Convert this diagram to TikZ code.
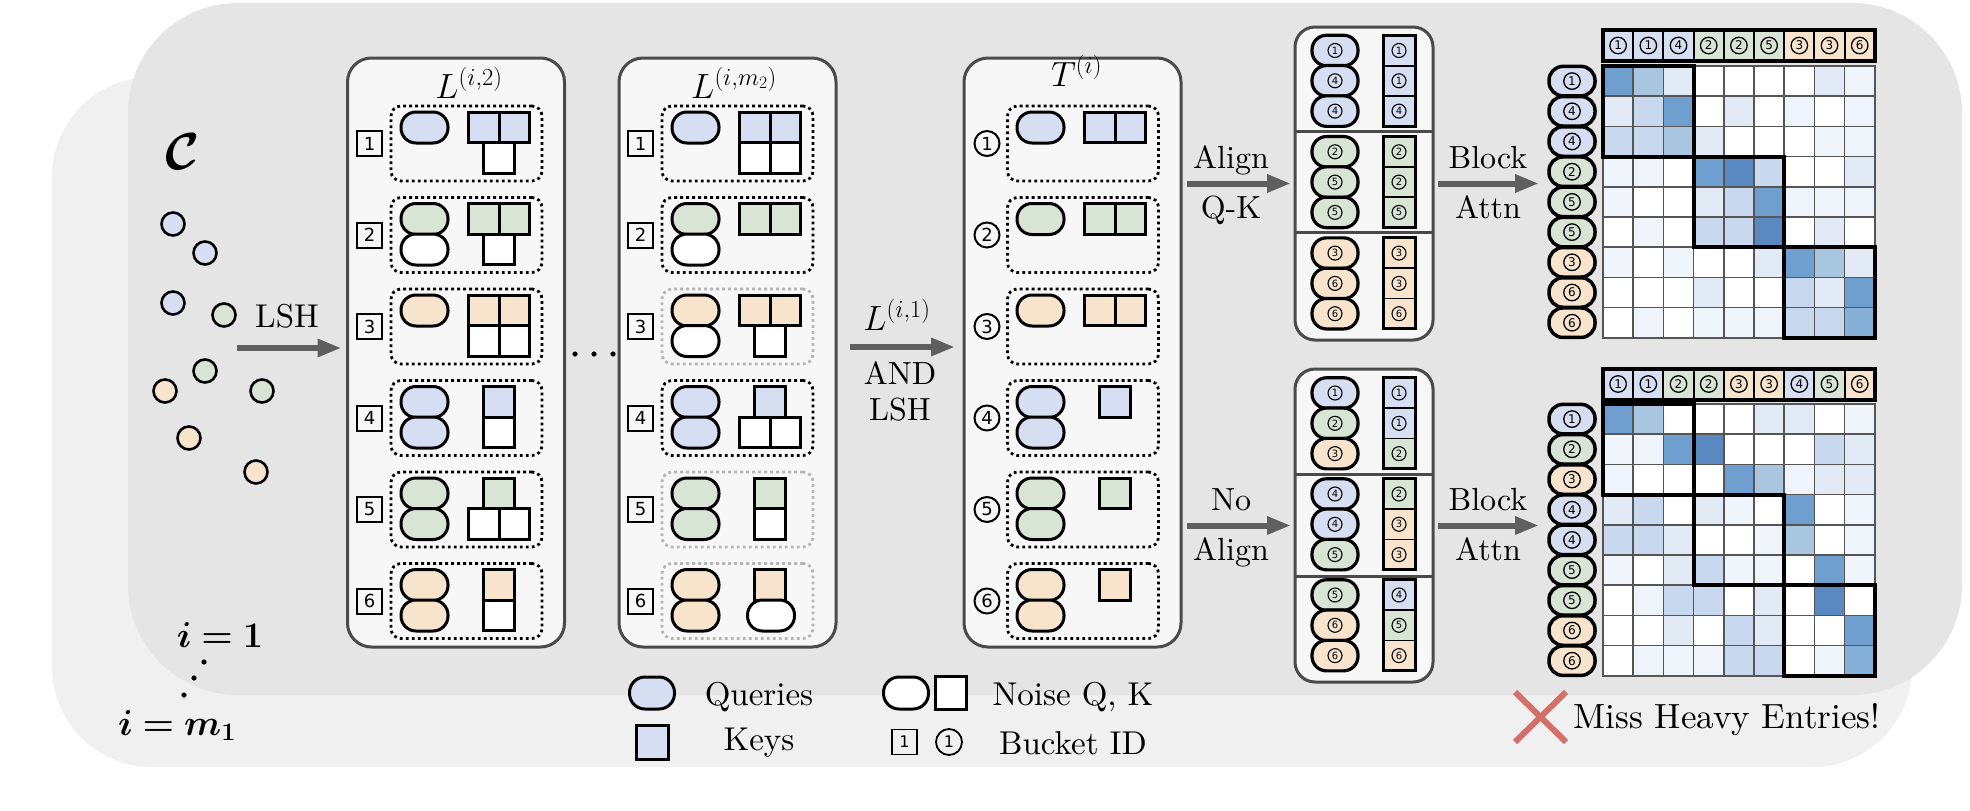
\RequirePackage{fix-cm}
\documentclass[tikz,border=0pt]{standalone}
\usepackage{amsmath}
\usepackage{bm}
\usepackage{fontspec}
\setmainfont{lmroman10-regular.otf}[BoldFont=lmroman10-bold.otf, ItalicFont=lmroman10-italic.otf]
\newfontfamily\digitfont{DejaVu Sans}
\usetikzlibrary{arrows.meta}
\definecolor{panelA}{HTML}{F0F0F0}
\definecolor{panelB}{HTML}{E5E5E5}
\definecolor{boxfill}{HTML}{F7F7F7}
\definecolor{boxline}{HTML}{4A4A4A}
\definecolor{qb}{HTML}{D6DEF2}
\definecolor{qg}{HTML}{D9E5D4}
\definecolor{qo}{HTML}{F8E4CC}
\definecolor{arrowgray}{HTML}{5F5F5F}
\definecolor{dotgray}{HTML}{B5B5B5}
\definecolor{gridgray}{HTML}{555555}
\definecolor{xred}{HTML}{D4706A}
\definecolor{h0}{HTML}{FFFFFF}
\definecolor{h1}{HTML}{F0F4FB}
\definecolor{h2}{HTML}{E2EAF6}
\definecolor{h3}{HTML}{C8D8EE}
\definecolor{h4}{HTML}{A8C6E0}
\definecolor{h5}{HTML}{6F9FCE}
\definecolor{h6}{HTML}{5A89C2}
\definecolor{h7}{HTML}{85B0D7}
\tikzset{
  every node/.style={inner sep=0pt, outer sep=0pt},
  bigbox/.style={draw=boxline, line width=3pt, fill=boxfill, rounded corners=24pt, minimum width=217pt, minimum height=589pt},
  dotrow/.style={draw=black, line width=2.8pt, dash pattern=on 2.8pt off 3.2pt, rounded corners=10pt, minimum width=151pt, minimum height=75pt},
  dotrowg/.style={dotrow, draw=dotgray},
  qnode/.style={draw, line width=3pt, rounded corners=15pt, minimum width=47pt, minimum height=31pt},
  knode/.style={draw, line width=3pt, minimum width=30.5pt, minimum height=30.5pt},
  bsq/.style={draw, line width=2pt, minimum size=25pt, font=\digitfont\fontsize{18}{18}\selectfont},
  bcirc/.style={draw, circle, line width=2pt, minimum size=25pt, font=\digitfont\fontsize{18}{18}\selectfont},
  blkbox/.style={draw=boxline, line width=3pt, fill=boxfill, rounded corners=20pt, minimum width=138pt, minimum height=313pt},
  bq/.style={draw, line width=3.2pt, rounded corners=14.5pt, minimum width=46pt, minimum height=30.5pt},
  bk/.style={draw, line width=1.8pt, minimum width=32pt, minimum height=30.3pt},
  sdig/.style={draw, circle, line width=1.1pt, minimum size=14pt, font=\digitfont\fontsize{10}{10}\selectfont},
  mdig/.style={draw, circle, line width=1.3pt, minimum size=16.5pt, font=\digitfont\fontsize{12}{12}\selectfont},
  mcell/.style={draw=gridgray, line width=1.6pt, minimum size=30.2pt},
  hcell/.style={draw, line width=2pt, minimum width=30.2pt, minimum height=31pt},
  rlab/.style={draw, line width=3.5pt, rounded corners=14pt, minimum width=46pt, minimum height=29.5pt},
  bigarrow/.style={draw=arrowgray, line width=6pt, -{Triangle[length=24pt,width=17pt]}},
  lab/.style={anchor=base, font=\fontsize{32}{40}\selectfont},
  leg/.style={anchor=base, font=\fontsize{33}{40}\selectfont},
  pnt/.style={draw, circle, line width=2.6pt, minimum size=23pt},
}
\newcommand\Qn[4]{\node[qnode,fill=#4] (#1) at (#2,#3) {};}
\newcommand\Kn[4]{\node[knode,fill=#4] (#1) at (#2,#3) {};}
\begin{document}
\begin{tikzpicture}[x=1pt,y=-1pt]
\useasboundingbox (0,0) rectangle (1970,811);
\fill[white] (0,0) rectangle (1970,811);
\fill[panelA, rounded corners=100pt] (52,77) rectangle (1912,767);
\fill[panelB, rounded corners=110pt] (128,3) rectangle (1962,695);

% ---------- C and points ----------
\node (calC) at (183,152) {\fontsize{52}{60}\selectfont$\bm{\mathcal{C}}$};
\foreach \px/\py/\cl [count=\n] in {173/224/qb, 205/253/qb, 173/303/qb, 224/315/qg, 205/371/qg, 165/391/qo, 262/391/qg, 189/438/qo, 256/472/qo}
  {\node[pnt, fill=\cl] (pt\n) at (\px,\py) {};}
\node[anchor=base, font=\fontsize{36}{40}\selectfont] (ione) at (220,647) {$\bm{i = 1}$};
\node[anchor=base, font=\fontsize{36}{40}\selectfont] (imone) at (177,735) {$\bm{i = m_1}$};
\fill (204,662) circle (2.6pt) (194,678) circle (2.6pt) (184,695) circle (2.6pt);

% ---------- boxes ----------
\node[bigbox] (L2) at (456,352.5) {};
\node[bigbox] (Lm) at (727.5,352.5) {};
\node[bigbox] (T) at (1072.5,352.5) {};
\node[anchor=base, font=\fontsize{35}{40}\selectfont] (L2t) at (469,98) {$L^{(i,2)}$};
\node[anchor=base, font=\fontsize{35}{40}\selectfont] (Lmt) at (734,98) {$L^{(i,m_2)}$};
\node[anchor=base, font=\fontsize{35}{40}\selectfont] (Tt) at (1076.5,86) {$T^{(i)}$};

\foreach \yc [count=\k] in {143.5,235,326.5,418,509.5,601}{
  \node[dotrow] (ar\k) at (466.5,\yc) {};
  \node[bsq] (al\k) at (369.5,\yc) {\k};
  \node[bsq] (bl\k) at (640.5,\yc) {\k};
  \node[dotrow] (cr\k) at (1083,\yc) {};
  \node[bcirc] (cl\k) at (987,\yc) {\k};
}
\node[dotrow] (br1) at (737.5,143.5) {};
\node[dotrow] (br2) at (737.5,235) {};
\node[dotrowg] (br3) at (737.5,326.5) {};
\node[dotrow] (br4) at (737.5,418) {};
\node[dotrowg] (br5) at (737.5,509.5) {};
\node[dotrowg] (br6) at (737.5,601) {};

% L(i,2) contents
\Qn{a1q1}{424.5}{127.5}{qb}\Kn{a1k1}{483.75}{127.5}{qb}\Kn{a1k2}{514.25}{127.5}{qb}\Kn{a1k3}{499}{158}{white}
\Qn{a2q1}{424.5}{219}{qg}\Qn{a2q2}{424.5}{249.5}{white}\Kn{a2k1}{483.75}{219}{qg}\Kn{a2k2}{514.25}{219}{qg}\Kn{a2k3}{499}{249.5}{white}
\Qn{a3q1}{424.5}{310.5}{qo}\Kn{a3k1}{483.75}{310.5}{qo}\Kn{a3k2}{514.25}{310.5}{qo}\Kn{a3k3}{483.75}{341}{white}\Kn{a3k4}{514.25}{341}{white}
\Qn{a4q1}{424.5}{402}{qb}\Qn{a4q2}{424.5}{432.5}{qb}\Kn{a4k1}{499}{402}{qb}\Kn{a4k2}{499}{432.5}{white}
\Qn{a5q1}{424.5}{493.5}{qg}\Qn{a5q2}{424.5}{524}{qg}\Kn{a5k1}{499}{493.5}{qg}\Kn{a5k2}{483.75}{524}{white}\Kn{a5k3}{514.25}{524}{white}
\Qn{a6q1}{424.5}{585}{qo}\Qn{a6q2}{424.5}{615.5}{qo}\Kn{a6k1}{499}{585}{qo}\Kn{a6k2}{499}{615.5}{white}

% L(i,m2) contents
\Qn{b1q1}{695.5}{127.5}{qb}\Kn{b1k1}{754.75}{127.5}{qb}\Kn{b1k2}{785.25}{127.5}{qb}\Kn{b1k3}{754.75}{158}{white}\Kn{b1k4}{785.25}{158}{white}
\Qn{b2q1}{695.5}{219}{qg}\Qn{b2q2}{695.5}{249.5}{white}\Kn{b2k1}{754.75}{219}{qg}\Kn{b2k2}{785.25}{219}{qg}
\Qn{b3q1}{695.5}{310.5}{qo}\Qn{b3q2}{695.5}{341}{white}\Kn{b3k1}{754.75}{310.5}{qo}\Kn{b3k2}{785.25}{310.5}{qo}\Kn{b3k3}{770}{341}{white}
\Qn{b4q1}{695.5}{402}{qb}\Qn{b4q2}{695.5}{432.5}{qb}\Kn{b4k1}{770}{402}{qb}\Kn{b4k2}{754.75}{432.5}{white}\Kn{b4k3}{785.25}{432.5}{white}
\Qn{b5q1}{695.5}{493.5}{qg}\Qn{b5q2}{695.5}{524}{qg}\Kn{b5k1}{770}{493.5}{qg}\Kn{b5k2}{770}{524}{white}
\Qn{b6q1}{695.5}{585}{qo}\Qn{b6q2}{695.5}{615.5}{qo}\Kn{b6k1}{770}{585}{qo}\Qn{b6k2}{771}{615.5}{white}

% T(i) contents
\Qn{c1q1}{1040.5}{127.5}{qb}\Kn{c1k1}{1099.75}{127.5}{qb}\Kn{c1k2}{1130.25}{127.5}{qb}
\Qn{c2q1}{1040.5}{219}{qg}\Kn{c2k1}{1099.75}{219}{qg}\Kn{c2k2}{1130.25}{219}{qg}
\Qn{c3q1}{1040.5}{310.5}{qo}\Kn{c3k1}{1099.75}{310.5}{qo}\Kn{c3k2}{1130.25}{310.5}{qo}
\Qn{c4q1}{1040.5}{402}{qb}\Qn{c4q2}{1040.5}{432.5}{qb}\Kn{c4k1}{1115}{402}{qb}
\Qn{c5q1}{1040.5}{493.5}{qg}\Qn{c5q2}{1040.5}{524}{qg}\Kn{c5k1}{1115}{493.5}{qg}
\Qn{c6q1}{1040.5}{585}{qo}\Qn{c6q2}{1040.5}{615.5}{qo}\Kn{c6k1}{1115}{585}{qo}

\fill (575,354) circle (2.6pt) (594,354) circle (2.6pt) (613,354) circle (2.6pt);

% ---------- block boxes ----------
\node[blkbox] (BA) at (1364,183.5) {};
\node[blkbox] (BB) at (1364,525.5) {};
\coordinate (dA1) at (1364,131.5);
\coordinate (dA2) at (1364,232.5);
\coordinate (dB1) at (1364,474);
\coordinate (dB2) at (1364,576);
\draw[boxline, line width=3pt] (BA.west |- dA1) -- (BA.east |- dA1) (BA.west |- dA2) -- (BA.east |- dA2);
\draw[boxline, line width=3pt] (BB.west |- dB1) -- (BB.east |- dB1) (BB.west |- dB2) -- (BB.east |- dB2);

\foreach \d/\cl [count=\j from 0] in {1/qb,4/qb,4/qb,2/qg,5/qg,5/qg,3/qo,6/qo,6/qo}{
  \pgfmathsetmacro\yy{50.5+101.3*floor(\j/3)+30.3*mod(\j,3)}
  \node[bq, fill=\cl] (BAq\j) at (1335,\yy) {};
  \node[sdig] (BAqd\j) at (BAq\j) {\d};
}
\foreach \d/\cl [count=\j from 0] in {1/qb,1/qb,4/qb,2/qg,2/qg,5/qg,3/qo,3/qo,6/qo}{
  \pgfmathsetmacro\yy{50.5+101.3*floor(\j/3)+30.3*mod(\j,3)}
  \node[bk, fill=\cl] (BAk\j) at (1399,\yy) {};
  \node[sdig] (BAkd\j) at (BAk\j) {\d};
}
\foreach \d/\cl [count=\j from 0] in {1/qb,2/qg,3/qo,4/qb,4/qb,5/qg,5/qg,6/qo,6/qo}{
  \pgfmathsetmacro\yy{393+101*floor(\j/3)+30.3*mod(\j,3)}
  \node[bq, fill=\cl] (BBq\j) at (1335,\yy) {};
  \node[sdig] (BBqd\j) at (BBq\j) {\d};
}
\foreach \d/\cl [count=\j from 0] in {1/qb,1/qb,2/qg,2/qg,3/qo,3/qo,4/qb,5/qg,6/qo}{
  \pgfmathsetmacro\yy{393+101*floor(\j/3)+30.3*mod(\j,3)}
  \node[bk, fill=\cl] (BBk\j) at (1399,\yy) {};
  \node[sdig] (BBkd\j) at (BBk\j) {\d};
}
\foreach \a/\b in {0/2,3/5,6/8}{
  \draw[line width=3pt] (BAk\a.north west) rectangle (BAk\b.south east);
  \draw[line width=3pt] (BBk\a.north west) rectangle (BBk\b.south east);
}

% ---------- matrices ----------
\foreach \rw [count=\ri] in {{5,4,2,0,0,0,0,2,1},{2,3,5,0,2,0,1,0,1},{3,3,4,2,0,0,0,1,1},{1,1,0,5,6,3,0,0,2},{1,0,0,2,3,5,1,1,1},{0,1,0,3,3,6,0,2,0},{1,0,1,0,0,2,5,4,2},{0,0,0,2,0,0,3,2,5},{0,1,0,1,1,1,3,3,7}}{
  \foreach \v [count=\ci] in \rw {
    \node[mcell, fill=h\v] (mA-\ri-\ci) at ({1603+30.2*\ci-15.1},{66+30.2*\ri-15.1}) {};
  }
}
\foreach \rw [count=\ri] in {{5,4,0,0,0,2,2,0,1},{1,1,5,6,0,0,0,3,2},{1,0,0,0,5,4,1,2,2},{2,3,0,2,1,0,5,0,1},{3,3,2,0,0,1,4,0,1},{1,0,2,3,1,1,0,5,1},{0,1,3,3,0,2,0,6,0},{0,0,2,0,3,2,0,0,5},{0,1,1,1,3,3,0,1,7}}{
  \foreach \v [count=\ci] in \rw {
    \node[mcell, fill=h\v] (mB-\ri-\ci) at ({1603+30.2*\ci-15.1},{404+30.2*\ri-15.1}) {};
  }
}
\foreach \m in {A,B}{
  \draw[line width=4pt] (m\m-1-1.north west) rectangle (m\m-3-3.south east);
  \draw[line width=4pt] (m\m-4-4.north west) rectangle (m\m-6-6.south east);
  \draw[line width=4pt] (m\m-7-7.north west) rectangle (m\m-9-9.south east);
}
\foreach \d/\cl [count=\ci] in {1/qb,1/qb,4/qb,2/qg,2/qg,5/qg,3/qo,3/qo,6/qo}{
  \node[hcell, fill=\cl] (hA\ci) at ({1603+30.2*\ci-15.1},45.5) {};
  \node[mdig] (hAd\ci) at (hA\ci) {\d};
}
\foreach \d/\cl [count=\ci] in {1/qb,1/qb,2/qg,2/qg,3/qo,3/qo,4/qb,5/qg,6/qo}{
  \node[hcell, fill=\cl] (hB\ci) at ({1603+30.2*\ci-15.1},384) {};
  \node[mdig] (hBd\ci) at (hB\ci) {\d};
}
\draw[line width=4pt] (hA1.north west) rectangle (hA9.south east);
\draw[line width=4pt] (hB1.north west) rectangle (hB9.south east);
\foreach \d/\cl [count=\ri] in {1/qb,4/qb,4/qb,2/qg,5/qg,5/qg,3/qo,6/qo,6/qo}{
  \node[rlab, fill=\cl] (rA\ri) at (1572,{66+30.2*\ri-15.1}) {};
  \node[mdig] (rAd\ri) at (rA\ri) {\d};
}
\foreach \d/\cl [count=\ri] in {1/qb,2/qg,3/qo,4/qb,4/qb,5/qg,5/qg,6/qo,6/qo}{
  \node[rlab, fill=\cl] (rB\ri) at (1572,{404+30.2*\ri-15.1}) {};
  \node[mdig] (rBd\ri) at (rB\ri) {\d};
}

% ---------- arrows and labels ----------
\node[lab, font=\fontsize{33}{40}\selectfont] (lshA) at (287,327) {LSH};
\coordinate (a1s) at (237,348);
\draw[bigarrow, shorten >=6pt] (a1s) -- (a1s -| L2.west);

\coordinate (a2y) at (0,347);
\draw[bigarrow, shorten <=14pt, shorten >=9pt] (Lm.east |- a2y) -- (T.west |- a2y);
\node[lab, font=\fontsize{35}{40}\selectfont] (lone) at (897,330) {$L^{(i,1)}$};
\node[lab] (andl) at (900,384) {AND};
\node[lab] (lshB) at (900,420) {LSH};

\draw[bigarrow, shorten <=6pt, shorten >=4pt] (T.east |- BA) -- (BA.west);
\node[lab] (alA) at (1231,168) {Align};
\node[lab] (qk) at (1231,218) {Q-K};
\draw[bigarrow, shorten <=6pt, shorten >=4pt] (T.east |- BB) -- (BB.west);
\node[lab] (noA) at (1231,510) {No};
\node[lab] (alB) at (1231,560) {Align};

\draw[bigarrow, shorten <=5pt, shorten >=10pt] (BA.east) -- (BA.east -| rA1.west);
\node[lab] (blA) at (1488,168) {Block};
\node[lab] (atA) at (1488,218) {Attn};
\draw[bigarrow, shorten <=5pt, shorten >=10pt] (BB.east) -- (BB.east -| rB1.west);
\node[lab] (blB) at (1488,510) {Block};
\node[lab] (atB) at (1488,560) {Attn};

% ---------- legend ----------
\node[qnode, fill=qb, minimum width=45pt, minimum height=32pt, rounded corners=15.5pt] (lgQ) at (652,693) {};
\node[leg] (lgQt) at (759,705) {Queries};
\node[knode, fill=qb, minimum width=32pt, minimum height=34pt] (lgK) at (652,742) {};
\node[leg] (lgKt) at (759,750) {Keys};
\node[qnode, fill=white, minimum width=45pt, minimum height=32pt, rounded corners=15.5pt] (lgN1) at (906,693) {};
\node[knode, fill=white, minimum width=31pt, minimum height=33pt] (lgN2) at (951,693) {};
\node[leg] (lgNt) at (1073,705) {Noise Q, K};
\node[bsq, minimum size=25pt, line width=1.8pt, font=\digitfont\fontsize{16}{16}\selectfont] (lgB1) at (904.5,742) {1};
\node[bcirc, minimum size=26pt, line width=1.8pt, font=\digitfont\fontsize{16}{16}\selectfont] (lgB2) at (949,742) {1};
\node[leg] (lgBt) at (1073,754) {Bucket ID};

\draw[xred, line width=6pt] (1515,692) -- (1566,742) (1515,742) -- (1566,692);
\node[anchor=base, font=\fontsize{35}{42}\selectfont] (miss) at (1727,728) {Miss Heavy Entries!};
\end{tikzpicture}
\end{document}
